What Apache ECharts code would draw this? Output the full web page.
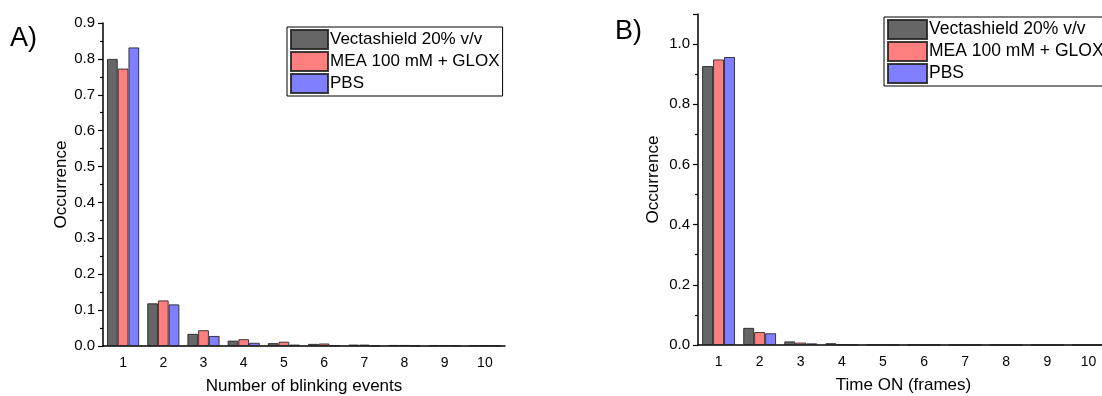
<!DOCTYPE html>
<html><head><meta charset="utf-8">
<script src="https://cdn.jsdelivr.net/npm/echarts@6/dist/echarts.min.js"></script>
<style>html,body{margin:0;padding:0;background:#fff}#c{width:1102px;height:396px}</style>
</head><body><div id="c"></div>
<script>
const categories = ['1','2','3','4','5','6','7','8','9','10'];
const seriesNames = ['Vectashield 20% v/v','MEA 100 mM + GLOX','PBS'];
const seriesColors = ['#666666','#ff7f7f','#7f7fff'];
// Panel A: Number of blinking events
const blinkVecta = [0.800,0.119,0.034,0.015,0.008,0.006,0.004,0.003,0.002,0.002];
const blinkMEA   = [0.773,0.127,0.044,0.019,0.012,0.007,0.004,0.003,0.002,0.001];
const blinkPBS   = [0.832,0.116,0.028,0.009,0.004,0.002,0.001,0.001,0.001,0.001];
// Panel B: Time ON (frames)
const onVecta = [0.927,0.057,0.012,0.006,0.001,0.0005,0.0003,0.0002,0.0001,0.0001];
const onMEA   = [0.949,0.043,0.008,0.002,0.0005,0.0003,0.0002,0.0001,0.0001,0.0001];
const onPBS   = [0.957,0.039,0.0055,0.001,0.0004,0.0002,0.0001,0.0001,0.0001,0.0001];

const FONT = "'Liberation Sans', Arial, sans-serif";
const chart = echarts.init(document.getElementById('c'));

function labelAxis(grid, name){
  return {type:'category', gridIndex:grid, data:categories, position:'bottom',
    name:name, nameLocation:'middle', nameGap:32,
    nameTextStyle:{fontFamily:FONT,fontSize:17,color:'#000'},
    axisLine:{lineStyle:{color:'#000',width:1.5}},
    axisTick:{alignWithLabel:true,length:5,interval:0,lineStyle:{color:'#000',width:1.2}},
    axisLabel:{interval:0,fontFamily:FONT,fontSize:14,color:'#000',margin:10}};
}
function tickAxis(grid){
  return {type:'category', gridIndex:grid, data:categories, position:'bottom',
    axisLine:{show:false}, axisLabel:{show:false},
    axisTick:{alignWithLabel:false,length:3,interval:0,lineStyle:{color:'#000',width:1.2}}};
}
function yAx(grid,max,interval,gap){
  return {type:'value', gridIndex:grid, min:0, max:max, interval:interval,
    name:'Occurrence', nameLocation:'middle', nameRotate:90, nameGap:gap,
    nameTextStyle:{fontFamily:FONT,fontSize:17,color:'#000'},
    splitLine:{show:false},
    axisLine:{show:true,lineStyle:{color:'#000',width:1.5}},
    axisTick:{show:true,length:5,lineStyle:{color:'#000',width:1.2}},
    minorTick:{show:true,splitNumber:2,length:3,lineStyle:{color:'#000',width:1.2}},
    axisLabel:{fontFamily:FONT,fontSize:15,color:'#000',margin:8,showMaxLabel: max===1.1?false:true,
      formatter:v=>v.toFixed(1)}};
}
function bars(data,i,xi,yi){
  return {type:'bar', name:seriesNames[i], data:data, xAxisIndex:xi, yAxisIndex:yi,
    barGap:'0%', barCategoryGap:'20%',
    itemStyle:{color:seriesColors[i], borderColor:'rgba(30,30,30,0.85)', borderWidth:1}};
}
function legend(left,top,fs,iw,ih){
  return {data:seriesNames, orient:'vertical', left:left, top:top, itemGap:1,
    itemWidth:iw, itemHeight:ih, padding:[2,3,2,3], icon:'rect',
    borderColor:'#000', borderWidth:1, backgroundColor:'#fff', selectedMode:false,
    textStyle:{fontFamily:FONT,fontSize:fs,color:'#000',padding:[0,0,0,-3]}};
}

chart.setOption({
  animation:false,
  grid:[{left:103,top:23,width:402,height:323,containLabel:false,outerBoundsMode:'none'},
        {left:698,top:14,width:411,height:331,containLabel:false,outerBoundsMode:'none'}],
  xAxis:[labelAxis(0,'Number of blinking events'),tickAxis(0),labelAxis(1,'Time ON (frames)'),tickAxis(1)],
  yAxis:[yAx(0,0.9,0.1,33),yAx(1,1.1,0.2,36)],
  legend:[legend(287,27,17,37,19),legend(884,17,17.5,39,19)],
  series:[
    bars(blinkVecta,0,0,0),bars(blinkMEA,1,0,0),bars(blinkPBS,2,0,0),
    bars(onVecta,0,2,1),bars(onMEA,1,2,1),bars(onPBS,2,2,1)
  ],
  graphic:[
    {type:'text',left:10,top:25,style:{text:'A)',font:'27px '+FONT,fill:'#000'}},
    {type:'text',left:615,top:18,style:{text:'B)',font:'27px '+FONT,fill:'#000'}}
  ]
});
</script></body></html>
